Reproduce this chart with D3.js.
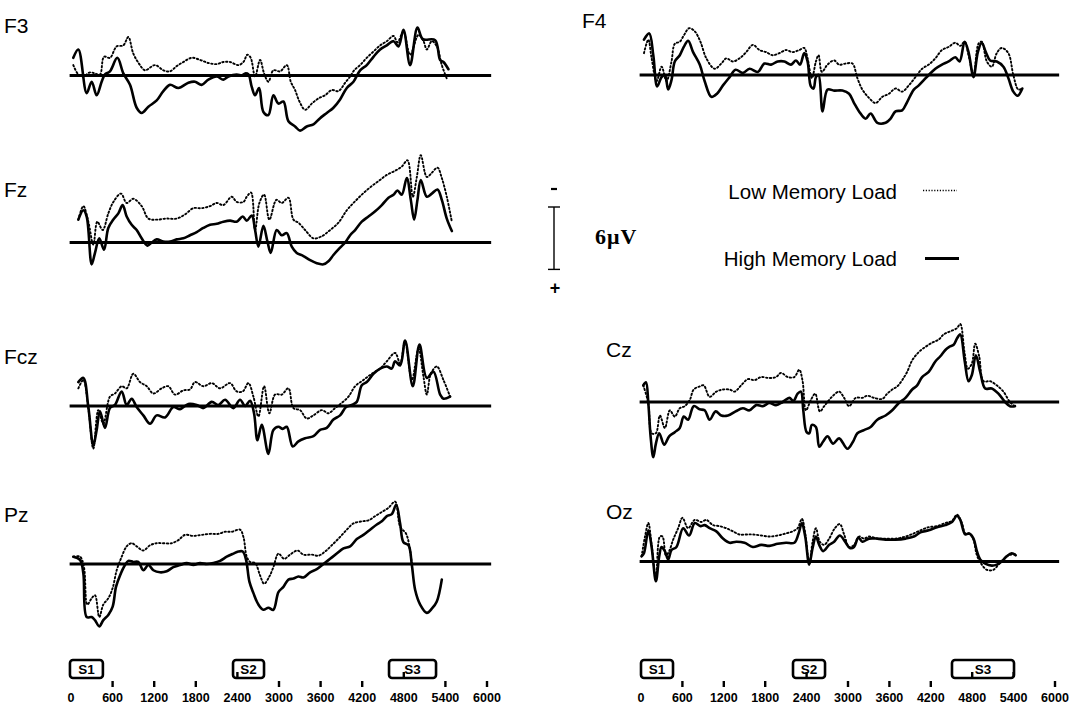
<!DOCTYPE html>
<html>
<head>
<meta charset="utf-8">
<script src="https://d3js.org/d3.v7.min.js"></script>
<style>
  body { margin: 0; background: #fff; }
  svg { display: block; }
  .wave { fill: none; stroke: #000; stroke-linejoin: round; stroke-linecap: round; }
</style>
</head>
<body>
<div id="chart"></div>
<script>
// ERP waveforms, time in ms, amplitude in microvolts (negative plotted upward)
var timeTicks = [0, 600, 1200, 1800, 2400, 3000, 3600, 4200, 4800, 5400, 6000];
var stimLabels = ["S1", "S2", "S3"];
var stimLeft = [[-15, 460], [2337, 2784], [4587, 5265]];
var stimRight = [[0, 464], [2203, 2667], [4507, 5406]];
var legendLabels = ["Low Memory Load", "High Memory Load"];

var f3Low = [[33,-1.0],[106,-0.1],[178,0.1],[274,-0.3],[346,-0.2],[418,-0.1],[476,-1.8],[562,-1.7],[659,-2.8],[755,-2.9],[827,-3.7],[899,-2.1],[995,-1.0],[1067,-0.5],[1212,-1.0],[1332,-0.5],[1428,-0.4],[1525,-0.9],[1621,-1.3],[1741,-1.7],[1861,-1.5],[1981,-1.2],[2102,-1.1],[2198,-1.3],[2294,-1.3],[2414,-1.0],[2487,-1.3],[2544,-2.0],[2592,-1.7],[2655,0.1],[2727,-1.5],[2785,-0.2],[2847,0.6],[2919,-0.5],[3016,-0.4],[3112,-1.0],[3170,0.6],[3232,1.4],[3295,2.5],[3377,3.3],[3473,2.7],[3569,2.2],[3665,1.9],[3761,1.4],[3857,1.5],[3954,0.7],[4026,0.1],[4084,-0.5],[4170,-1.0],[4266,-1.7],[4362,-2.3],[4459,-2.9],[4555,-3.3],[4651,-3.8],[4709,-3.2],[4795,-4.2],[4891,-2.0],[5012,-3.9],[5084,-3.3],[5132,-2.5],[5204,-3.3],[5276,-2.8],[5348,-1.0],[5420,0.3]];
var f3High = [[33,-1.7],[106,-2.5],[226,1.7],[298,0.6],[370,1.9],[442,0.6],[490,-0.1],[562,-0.4],[668,-1.7],[755,-0.2],[851,0.9],[947,3.1],[1019,3.6],[1116,3.0],[1236,2.4],[1332,1.5],[1428,0.9],[1549,1.2],[1693,0.7],[1789,0.6],[1885,0.9],[1981,0.4],[2102,0.1],[2198,0.4],[2270,0.1],[2390,-0.1],[2462,0.0],[2511,-0.2],[2559,-0.1],[2607,1.1],[2655,1.9],[2713,1.2],[2775,3.5],[2847,3.8],[2919,1.9],[2992,2.7],[3064,2.5],[3136,4.4],[3232,4.9],[3304,5.3],[3400,4.9],[3497,4.7],[3593,4.1],[3689,3.6],[3785,3.1],[3881,2.3],[3978,1.2],[4074,0.6],[4170,-0.5],[4266,-1.0],[4362,-1.8],[4459,-2.5],[4555,-2.9],[4651,-3.3],[4723,-2.8],[4795,-4.4],[4891,-1.0],[4997,-4.6],[5074,-3.5],[5252,-3.4],[5324,-1.5],[5372,-1.3],[5444,-0.6]];

var fzLow = [[106,-2.2],[178,-3.5],[250,-2.0],[322,0.2],[380,-2.0],[457,-1.2],[538,-2.8],[611,-3.9],[721,-4.7],[803,-3.8],[899,-4.2],[1019,-3.5],[1116,-2.3],[1236,-2.2],[1380,-2.3],[1525,-2.3],[1645,-2.7],[1765,-3.3],[1885,-3.3],[2006,-3.5],[2102,-3.8],[2198,-3.6],[2318,-4.4],[2390,-3.9],[2487,-3.9],[2535,-4.4],[2597,-4.8],[2655,-1.2],[2717,-3.8],[2785,-4.6],[2861,-2.2],[2963,-4.1],[3040,-3.8],[3136,-4.3],[3208,-2.2],[3280,-1.9],[3377,-1.2],[3497,-0.4],[3617,-0.6],[3737,-1.2],[3857,-1.9],[3978,-3.1],[4074,-3.8],[4194,-4.6],[4314,-5.3],[4435,-5.9],[4555,-6.5],[4675,-6.9],[4771,-7.3],[4853,-7.9],[4930,-4.4],[4988,-6.3],[5045,-8.4],[5132,-6.3],[5204,-6.7],[5286,-7.2],[5348,-6.2],[5420,-4.4],[5493,-2.0]];
var fzHigh = [[106,-2.2],[178,-3.1],[226,-2.5],[298,2.1],[346,1.0],[408,-0.4],[476,0.7],[538,-1.4],[611,-2.2],[683,-2.8],[745,-3.6],[803,-2.5],[875,-1.7],[947,-1.2],[1019,-0.4],[1101,0.3],[1164,0.0],[1236,-0.3],[1332,-0.1],[1428,-0.1],[1525,-0.3],[1621,-0.4],[1717,-0.7],[1813,-1.0],[1909,-1.4],[2006,-1.7],[2102,-1.8],[2198,-2.0],[2294,-2.1],[2390,-2.0],[2477,-2.5],[2535,-2.1],[2607,-2.6],[2655,-1.2],[2703,0.4],[2775,-1.6],[2833,-0.1],[2881,1.0],[2967,-1.2],[3040,-0.7],[3112,-0.9],[3184,0.4],[3256,1.0],[3352,1.3],[3449,1.7],[3545,2.0],[3641,2.1],[3713,1.8],[3785,1.2],[3881,0.5],[3954,0.0],[4026,-0.7],[4098,-1.2],[4194,-2.0],[4290,-2.5],[4387,-3.0],[4483,-3.6],[4579,-4.3],[4651,-4.6],[4709,-5.0],[4771,-4.6],[4843,-6.2],[4901,-4.1],[4949,-2.2],[4997,-4.1],[5045,-6.0],[5132,-4.4],[5204,-4.7],[5286,-5.1],[5348,-4.1],[5420,-2.3],[5493,-1.1]];

var fczLow = [[106,-1.7],[178,-2.5],[250,0.2],[322,4.1],[394,0.4],[466,1.7],[562,-0.9],[634,-1.2],[731,-1.9],[803,-1.7],[899,-3.1],[995,-2.3],[1092,-1.9],[1188,-1.2],[1308,-1.7],[1404,-1.9],[1500,-1.1],[1621,-1.5],[1717,-1.6],[1789,-2.3],[1909,-1.9],[2030,-2.2],[2150,-1.7],[2294,-2.2],[2390,-1.4],[2477,-1.4],[2559,-2.2],[2631,-0.9],[2703,1.0],[2785,-1.9],[2861,0.7],[2944,-1.1],[3040,-1.1],[3136,-1.7],[3208,0.2],[3304,0.4],[3400,1.2],[3497,0.9],[3617,0.4],[3713,0.7],[3809,0.2],[3905,-0.3],[4002,-0.9],[4098,-1.9],[4218,-2.5],[4338,-3.1],[4459,-3.6],[4555,-4.3],[4675,-5.1],[4747,-4.1],[4819,-6.2],[4916,-2.5],[5012,-5.5],[5084,-2.8],[5132,-1.1],[5190,-3.1],[5276,-3.8],[5372,-2.5],[5468,-0.9]];
var fczHigh = [[106,-2.3],[178,-2.7],[250,0.1],[322,3.8],[370,2.3],[418,0.5],[490,2.1],[562,0.2],[634,-0.1],[731,-1.4],[803,-0.1],[875,-0.7],[947,0.1],[1043,0.9],[1140,1.7],[1236,0.9],[1356,1.1],[1476,0.1],[1573,0.3],[1693,-0.2],[1813,-0.1],[1909,0.2],[2030,-0.4],[2126,-0.1],[2222,-0.6],[2342,0.2],[2438,-0.6],[2511,0.0],[2583,-0.5],[2640,0.7],[2689,3.3],[2751,1.8],[2847,4.6],[2919,2.3],[2992,2.0],[3054,2.2],[3112,2.0],[3198,3.9],[3280,3.4],[3377,3.1],[3497,2.9],[3593,2.3],[3689,2.1],[3785,1.3],[3881,0.9],[3968,0.1],[4050,-0.1],[4122,-0.4],[4194,-2.0],[4266,-2.3],[4362,-3.1],[4459,-3.6],[4555,-3.8],[4627,-3.6],[4675,-4.3],[4747,-3.9],[4819,-6.3],[4930,-1.9],[5026,-5.9],[5132,-2.7],[5228,-3.3],[5324,-1.1],[5372,-0.7],[5468,-0.9]];

var pzLow = [[33,-0.7],[130,-0.7],[187,0.3],[235,3.9],[298,3.3],[346,3.0],[408,5.1],[466,3.9],[538,3.3],[601,2.3],[659,0.6],[731,-0.7],[803,-1.7],[875,-2.0],[947,-1.7],[1043,-1.3],[1140,-1.8],[1236,-2.0],[1332,-2.0],[1452,-2.0],[1549,-2.3],[1645,-2.8],[1765,-2.7],[1885,-2.8],[2006,-2.9],[2126,-2.9],[2222,-3.1],[2318,-3.1],[2438,-3.3],[2487,-2.6],[2535,-0.7],[2583,-0.2],[2655,-0.1],[2727,1.1],[2785,1.9],[2861,1.2],[2919,0.3],[2992,-1.0],[3074,-0.5],[3160,-0.9],[3266,-1.3],[3352,-0.9],[3473,-0.9],[3569,-0.8],[3665,-1.2],[3761,-1.8],[3881,-2.6],[3978,-3.3],[4074,-3.9],[4194,-4.1],[4290,-4.2],[4387,-4.6],[4483,-5.0],[4579,-5.4],[4675,-6.0],[4747,-3.6],[4834,-2.9],[4891,-1.3],[4916,0.1]];
var pzHigh = [[33,-0.7],[130,-0.4],[178,0.9],[226,5.1],[298,5.1],[346,5.4],[408,6.0],[466,5.4],[538,4.9],[601,4.1],[649,2.2],[707,1.1],[779,0.1],[827,-0.3],[899,-0.2],[971,-0.2],[1043,0.6],[1116,0.1],[1188,0.6],[1284,0.8],[1380,0.7],[1476,0.3],[1573,0.1],[1669,-0.1],[1765,0.1],[1861,-0.1],[1957,0.0],[2054,-0.1],[2150,-0.3],[2246,-0.7],[2342,-1.0],[2414,-1.2],[2477,-1.2],[2525,-0.4],[2573,1.7],[2631,2.8],[2703,3.9],[2775,4.4],[2847,4.2],[2919,4.4],[2992,2.7],[3064,2.2],[3136,1.5],[3208,1.4],[3280,1.2],[3352,1.3],[3449,0.8],[3545,0.5],[3641,0.0],[3737,-0.5],[3833,-1.0],[3930,-1.5],[4026,-1.7],[4122,-2.4],[4218,-2.8],[4314,-3.3],[4411,-3.8],[4483,-4.1],[4555,-4.6],[4627,-4.8],[4690,-5.7],[4747,-3.9],[4795,-2.1],[4868,-1.8],[4916,0.1],[4964,2.5],[5036,3.9],[5132,4.7],[5204,4.3],[5276,3.6],[5348,1.5]];

var f4Low = [[43,-2.1],[106,-3.4],[154,-1.6],[226,0.6],[298,-0.8],[370,0.6],[442,-1.3],[490,-3.0],[562,-3.2],[620,-3.8],[697,-4.5],[779,-4.2],[861,-3.2],[947,-1.6],[1067,-0.6],[1164,-1.1],[1236,-1.6],[1332,-1.3],[1428,-1.6],[1525,-2.2],[1621,-2.9],[1717,-2.4],[1813,-2.2],[1909,-1.9],[2006,-2.1],[2102,-2.4],[2198,-2.2],[2294,-2.4],[2366,-2.6],[2414,-1.6],[2477,0.3],[2535,-1.3],[2573,-1.9],[2621,-0.3],[2703,-1.0],[2799,-1.4],[2871,-1.0],[2967,-1.1],[3064,-1.1],[3136,0.3],[3208,1.4],[3304,2.2],[3400,2.7],[3497,2.1],[3593,1.8],[3689,1.3],[3785,1.6],[3881,1.0],[3978,0.2],[4074,-0.6],[4170,-1.0],[4266,-1.6],[4362,-2.4],[4459,-2.7],[4555,-3.1],[4627,-2.8],[4690,-3.2],[4747,-1.9],[4819,0.0],[4891,-3.0],[4939,-3.2],[5012,-1.3],[5084,-0.8],[5156,-2.1],[5228,-2.6],[5324,-2.1],[5396,0.0],[5468,1.4],[5526,1.3]];
var f4High = [[43,-3.4],[120,-4.0],[178,-1.9],[235,1.1],[298,0.2],[346,0.0],[394,1.4],[442,0.5],[490,-1.3],[562,-1.9],[620,-2.7],[683,-3.3],[755,-2.2],[851,-1.0],[923,0.6],[1019,2.1],[1101,1.8],[1188,1.0],[1284,0.2],[1371,-0.5],[1476,-0.2],[1573,-0.6],[1693,-0.3],[1789,-1.1],[1885,-1.0],[1981,-1.3],[2078,-1.3],[2174,-1.0],[2246,-1.4],[2304,-1.0],[2366,-2.1],[2414,-1.3],[2462,1.1],[2501,1.3],[2535,0.2],[2573,0.0],[2631,3.5],[2703,1.4],[2799,1.5],[2919,1.5],[3016,1.8],[3088,2.7],[3160,3.5],[3256,4.2],[3328,3.7],[3425,4.6],[3545,4.6],[3617,4.2],[3689,3.5],[3785,3.4],[3857,2.6],[3954,1.4],[4026,1.0],[4098,0.5],[4170,0.0],[4266,-0.6],[4362,-1.0],[4459,-1.3],[4555,-1.7],[4617,-1.3],[4690,-3.2],[4747,-2.2],[4819,0.2],[4882,-2.2],[4939,-3.1],[4997,-2.2],[5060,-1.4],[5156,-1.3],[5252,-0.8],[5324,0.3],[5396,1.6],[5459,2.0],[5526,1.3]];

var czLow = [[33,-1.6],[106,0.1],[154,3.0],[216,3.0],[274,1.3],[346,2.5],[418,0.8],[490,1.4],[562,0.6],[634,0.4],[707,-0.2],[764,-1.2],[851,-1.5],[909,-1.6],[995,-0.5],[1092,-1.0],[1188,-1.2],[1284,-1.2],[1356,-1.0],[1452,-1.6],[1549,-2.2],[1645,-2.1],[1741,-2.4],[1861,-2.3],[1957,-2.4],[2030,-2.8],[2126,-2.4],[2222,-2.4],[2294,-3.1],[2342,-2.0],[2390,0.8],[2462,-0.2],[2525,-0.8],[2592,0.9],[2655,0.4],[2727,-0.2],[2799,-0.7],[2871,-1.0],[2944,-0.4],[3016,0.4],[3112,-0.4],[3208,-0.4],[3280,-0.6],[3377,-0.4],[3497,-0.3],[3569,-0.8],[3641,-1.2],[3713,-1.5],[3785,-2.1],[3857,-2.9],[3930,-4.0],[4026,-4.8],[4122,-5.3],[4218,-5.7],[4314,-6.0],[4387,-6.5],[4483,-6.8],[4579,-7.1],[4627,-7.5],[4690,-4.7],[4737,-3.2],[4795,-3.7],[4843,-5.6],[4901,-4.4],[4964,-2.0],[5060,-2.0],[5156,-1.6],[5252,-1.0],[5348,0.0],[5420,0.4]];
var czHigh = [[33,-1.6],[72,-1.9],[106,0.1],[139,3.3],[178,5.3],[216,4.0],[264,3.0],[336,4.1],[408,3.3],[490,2.9],[562,2.5],[620,1.4],[683,1.7],[764,0.4],[851,0.7],[923,0.8],[995,1.7],[1082,0.9],[1164,1.3],[1260,1.3],[1371,0.9],[1476,0.6],[1573,0.8],[1669,0.3],[1765,0.4],[1861,0.1],[1957,0.3],[2054,0.0],[2150,-0.4],[2208,-0.1],[2270,-0.8],[2318,-1.0],[2352,0.8],[2400,2.9],[2438,3.0],[2477,2.2],[2535,2.4],[2583,4.3],[2640,3.8],[2703,3.3],[2785,4.0],[2871,3.5],[2992,4.5],[3074,3.8],[3136,3.0],[3232,2.7],[3328,2.4],[3425,1.7],[3545,1.3],[3641,0.8],[3737,0.1],[3833,-0.4],[3930,-1.2],[4002,-1.6],[4074,-2.4],[4170,-2.9],[4266,-3.9],[4338,-4.4],[4411,-5.0],[4468,-5.3],[4531,-5.5],[4579,-6.1],[4627,-6.5],[4690,-4.0],[4747,-2.0],[4795,-2.6],[4853,-4.5],[4916,-2.9],[4988,-1.3],[5084,-1.3],[5180,-0.8],[5276,0.0],[5348,0.4],[5420,0.4]];

var ozLow = [[9,-0.5],[58,-2.4],[106,-3.7],[154,-1.6],[216,1.6],[274,-2.4],[312,-2.4],[361,-0.6],[408,-1.0],[466,-2.1],[538,-3.2],[601,-4.2],[683,-3.2],[779,-4.0],[875,-3.8],[947,-4.0],[1043,-3.5],[1140,-3.4],[1236,-3.2],[1332,-2.9],[1428,-2.6],[1525,-2.6],[1621,-2.6],[1741,-2.5],[1861,-2.4],[1981,-2.5],[2102,-2.7],[2198,-2.9],[2270,-3.2],[2332,-4.1],[2380,-2.7],[2438,0.2],[2487,-1.9],[2535,-3.2],[2592,-1.9],[2655,-1.6],[2727,-2.2],[2809,-3.2],[2881,-3.6],[2944,-2.6],[3016,-1.4],[3088,-1.6],[3160,-2.4],[3232,-2.2],[3304,-2.4],[3425,-2.2],[3545,-2.2],[3689,-2.2],[3833,-2.4],[3954,-2.7],[4050,-3.0],[4170,-3.3],[4290,-3.4],[4411,-3.7],[4507,-3.9],[4579,-4.5],[4651,-3.7],[4699,-2.7],[4771,-2.6],[4819,-2.1],[4868,-0.6],[4939,0.3],[5012,0.8],[5108,0.8],[5180,0.3],[5252,-0.2],[5324,-0.6],[5420,-0.7]];
var ozHigh = [[9,-0.5],[43,-0.8],[106,-3.0],[154,-1.4],[216,1.9],[264,-0.5],[298,-1.4],[346,-1.0],[394,-0.2],[442,-1.1],[514,-1.4],[611,-3.2],[697,-2.5],[779,-3.7],[861,-3.4],[923,-3.5],[995,-3.2],[1092,-2.9],[1188,-2.2],[1284,-1.8],[1380,-1.9],[1500,-1.8],[1621,-1.4],[1741,-1.6],[1861,-1.5],[1981,-1.7],[2102,-1.8],[2222,-1.8],[2284,-2.7],[2332,-3.7],[2380,-2.4],[2438,0.3],[2487,-1.3],[2535,-2.4],[2583,-1.6],[2640,-1.0],[2727,-1.6],[2799,-1.9],[2881,-2.5],[2958,-1.9],[3026,-1.3],[3088,-1.4],[3150,-2.3],[3208,-1.9],[3304,-2.2],[3425,-2.2],[3545,-2.1],[3689,-2.1],[3833,-2.2],[3954,-2.4],[4050,-2.8],[4170,-3.0],[4290,-3.3],[4411,-3.5],[4507,-3.8],[4579,-4.4],[4627,-4.0],[4699,-2.6],[4757,-2.7],[4819,-2.2],[4868,-1.0],[4916,-0.2],[4988,0.2],[5084,0.4],[5156,0.3],[5228,0.0],[5300,-0.5],[5372,-0.8],[5430,-0.6]];

var W = 1081, H = 705;
var pxPerUV = 10.4;
var sans = "Liberation Sans, Arial, sans-serif";

var svg = d3.select("#chart").append("svg")
    .attr("width", W)
    .attr("height", H);

var xLeft = d3.scaleLinear().domain([0, 6000]).range([71, 487]);
var xRight = d3.scaleLinear().domain([0, 6000]).range([641, 1055]);

// panel layout
var panels = [
    {name: "F3",  x: xLeft,  base: 75.5, lx: 4,   ly: 33,  low: f3Low,  high: f3High},
    {name: "Fz",  x: xLeft,  base: 242.5, lx: 4,  ly: 197, low: fzLow,  high: fzHigh},
    {name: "Fcz", x: xLeft,  base: 406,  lx: 4,   ly: 364, low: fczLow, high: fczHigh},
    {name: "Pz",  x: xLeft,  base: 564,  lx: 4,   ly: 522, low: pzLow,  high: pzHigh},
    {name: "F4",  x: xRight, base: 75,   lx: 582, ly: 28,  low: f4Low,  high: f4High},
    {name: "Cz",  x: xRight, base: 402,  lx: 606, ly: 357, low: czLow,  high: czHigh},
    {name: "Oz",  x: xRight, base: 561.5, lx: 606, ly: 519, low: ozLow, high: ozHigh}
];

panels.forEach(function (p) {
    var y = d3.scaleLinear().domain([-10, 10]).range([p.base - 10 * pxPerUV, p.base + 10 * pxPerUV]);
    var g = svg.append("g");

    g.append("line")
        .attr("x1", p.x(-20)).attr("x2", p.x(6060))
        .attr("y1", y(0)).attr("y2", y(0))
        .attr("stroke", "#000").attr("stroke-width", 3);

    var line = d3.line()
        .x(function (d) { return p.x(d[0]); })
        .y(function (d) { return y(d[1]); })
        .curve(d3.curveCatmullRom.alpha(0.5));

    g.append("path").datum(p.low)
        .attr("class", "wave")
        .attr("d", line)
        .attr("stroke-width", 1.9)
        .attr("stroke-dasharray", "1.4 2.4");

    g.append("path").datum(p.high)
        .attr("class", "wave")
        .attr("d", line)
        .attr("stroke-width", 2.6);

    svg.append("text")
        .attr("x", p.lx).attr("y", p.ly)
        .attr("font-family", sans)
        .attr("font-size", 21)
        .text(p.name);
});

// time axes with stimulus boxes
function drawAxis(x, stims) {
    var g = svg.append("g");
    var boxTop = 660, boxH = 18;
    stims.forEach(function (s, i) {
        g.append("rect")
            .attr("x", x(s[0])).attr("y", boxTop)
            .attr("width", x(s[1]) - x(s[0])).attr("height", boxH)
            .attr("rx", 3)
            .attr("fill", "#fff").attr("stroke", "#000").attr("stroke-width", 2.6);
        g.append("text")
            .attr("x", (x(s[0]) + x(s[1])) / 2).attr("y", boxTop + 14)
            .attr("text-anchor", "middle")
            .attr("font-family", sans)
            .attr("font-weight", "bold").attr("font-size", 13.5)
            .text(stimLabels[i]);
    });
    timeTicks.forEach(function (t) {
        if (t === 0) return;
        var inBox = stims.some(function (s) { return t >= s[0] && t <= s[1]; });
        g.append("line")
            .attr("x1", x(t)).attr("x2", x(t))
            .attr("y1", inBox ? 672 : 681).attr("y2", inBox ? 677 : 687)
            .attr("stroke", "#000").attr("stroke-width", 2.4);
    });
    timeTicks.forEach(function (t) {
        g.append("text")
            .attr("x", x(t)).attr("y", 702)
            .attr("text-anchor", "middle")
            .attr("font-family", sans)
            .attr("font-weight", "bold").attr("font-size", 12.5)
            .text(t);
    });
}
drawAxis(xLeft, stimLeft);
drawAxis(xRight, stimRight);

// calibration bar (6 microvolts)
var cal = d3.scaleLinear().domain([-3, 3]).range([207, 207 + 6 * pxPerUV]);
svg.append("line").attr("x1", 554).attr("x2", 554).attr("y1", cal(-3)).attr("y2", cal(3))
    .attr("stroke", "#000").attr("stroke-width", 1.4);
[-3, 3].forEach(function (v) {
    svg.append("line").attr("x1", 548).attr("x2", 560).attr("y1", cal(v)).attr("y2", cal(v))
        .attr("stroke", "#000").attr("stroke-width", 1.4);
});
svg.append("line").attr("x1", 551).attr("x2", 557).attr("y1", 189).attr("y2", 189)
    .attr("stroke", "#000").attr("stroke-width", 2.2);
svg.append("text").attr("x", 555).attr("y", 294).attr("text-anchor", "middle")
    .attr("font-family", sans)
    .attr("font-weight", "bold").attr("font-size", 18).text("+");
svg.append("text").attr("x", 595).attr("y", 244)
    .attr("font-family", "Liberation Serif, Times New Roman, serif")
    .attr("font-weight", "bold").attr("font-size", 22)
    .attr("letter-spacing", 1).text("6\u03BCV");

// legend
var legTextY = [199, 266];
var legLineY = [190.5, 258.5];
legendLabels.forEach(function (lab, i) {
    svg.append("text").attr("x", 897).attr("y", legTextY[i])
        .attr("text-anchor", "end")
        .attr("font-family", sans)
        .attr("font-size", 20.5).text(lab);
    svg.append("line").attr("x1", i ? 925 : 923).attr("x2", i ? 959 : 957)
        .attr("y1", legLineY[i]).attr("y2", legLineY[i])
        .attr("stroke", "#000")
        .attr("stroke-width", i ? 2.8 : 1.6)
        .attr("stroke-dasharray", i ? null : "1.2 1.6");
});
</script>
</body>
</html>
